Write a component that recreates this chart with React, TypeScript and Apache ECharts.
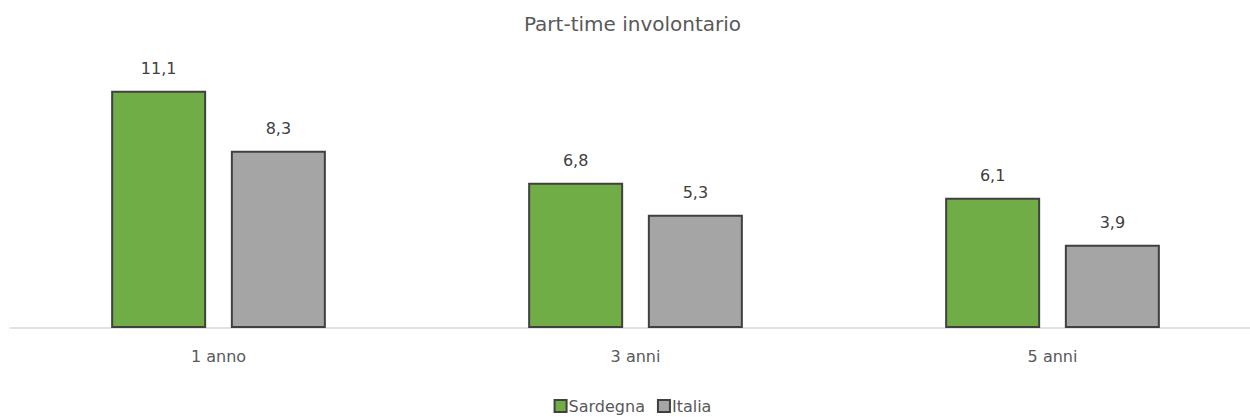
import React, { useEffect, useRef } from "react";
import * as echarts from "echarts";

const categories = ["1 anno", "3 anni", "5 anni"];
const sardegna = [11.1, 6.8, 6.1];
const italia = [8.3, 5.3, 3.9];

export default function App() {
  const ref = useRef<HTMLDivElement>(null);
  useEffect(() => {
    document.body.style.margin = "0";
    document.body.style.overflow = "hidden";
    const chart = echarts.init(ref.current!, null, { renderer: "svg" });
    const font = "'DejaVu Sans', sans-serif";
    const fmt = (p: any) => String(p.value).replace(".", ",");
    const label = {
      show: true,
      position: "top",
      distance: 14,
      color: "#404040",
      fontSize: 16,
      fontFamily: font,
      formatter: fmt,
    };
    chart.setOption({
      animation: false,
      title: {
        text: "Part-time involontario",
        left: "center",
        top: 9,
        textStyle: { color: "#595959", fontSize: 20, fontWeight: "normal", fontFamily: font },
      },
      legend: {
        top: 396,
        padding: [2, 5, 2, 5],
        left: "center",
        itemWidth: 12,
        itemHeight: 12,
        itemGap: 12,
        icon: "rect",
        textStyle: { color: "#595959", fontSize: 16, fontFamily: font, padding: [0, 0, 0, -3] },
        data: ["Sardegna", "Italia"],
      },
      grid: { left: 10, right: 4, top: 71.6, bottom: 89, containLabel: false },
      xAxis: {
        type: "category",
        data: categories,
        axisLine: { lineStyle: { color: "#D9D9D9", width: 1.5 } },
        axisTick: { show: false },
        axisLabel: { color: "#595959", fontSize: 16, fontFamily: font, margin: 20 },
      },
      yAxis: {
        type: "value",
        min: 0,
        max: 12,
        show: false,
        splitLine: { show: false },
      },
      series: [
        {
          name: "Sardegna",
          type: "bar",
          data: sardegna,
          barWidth: 95,
          barGap: "26%",
          itemStyle: { color: "#70AD47", borderColor: "#404040", borderWidth: 2 },
          label,
        },
        {
          name: "Italia",
          type: "bar",
          data: italia,
          barWidth: 95,
          itemStyle: { color: "#A5A5A5", borderColor: "#404040", borderWidth: 2 },
          label,
        },
      ],
    });
    return () => chart.dispose();
  }, []);
  return <div ref={ref} style={{ width: 1265, height: 417 }} />;
}
